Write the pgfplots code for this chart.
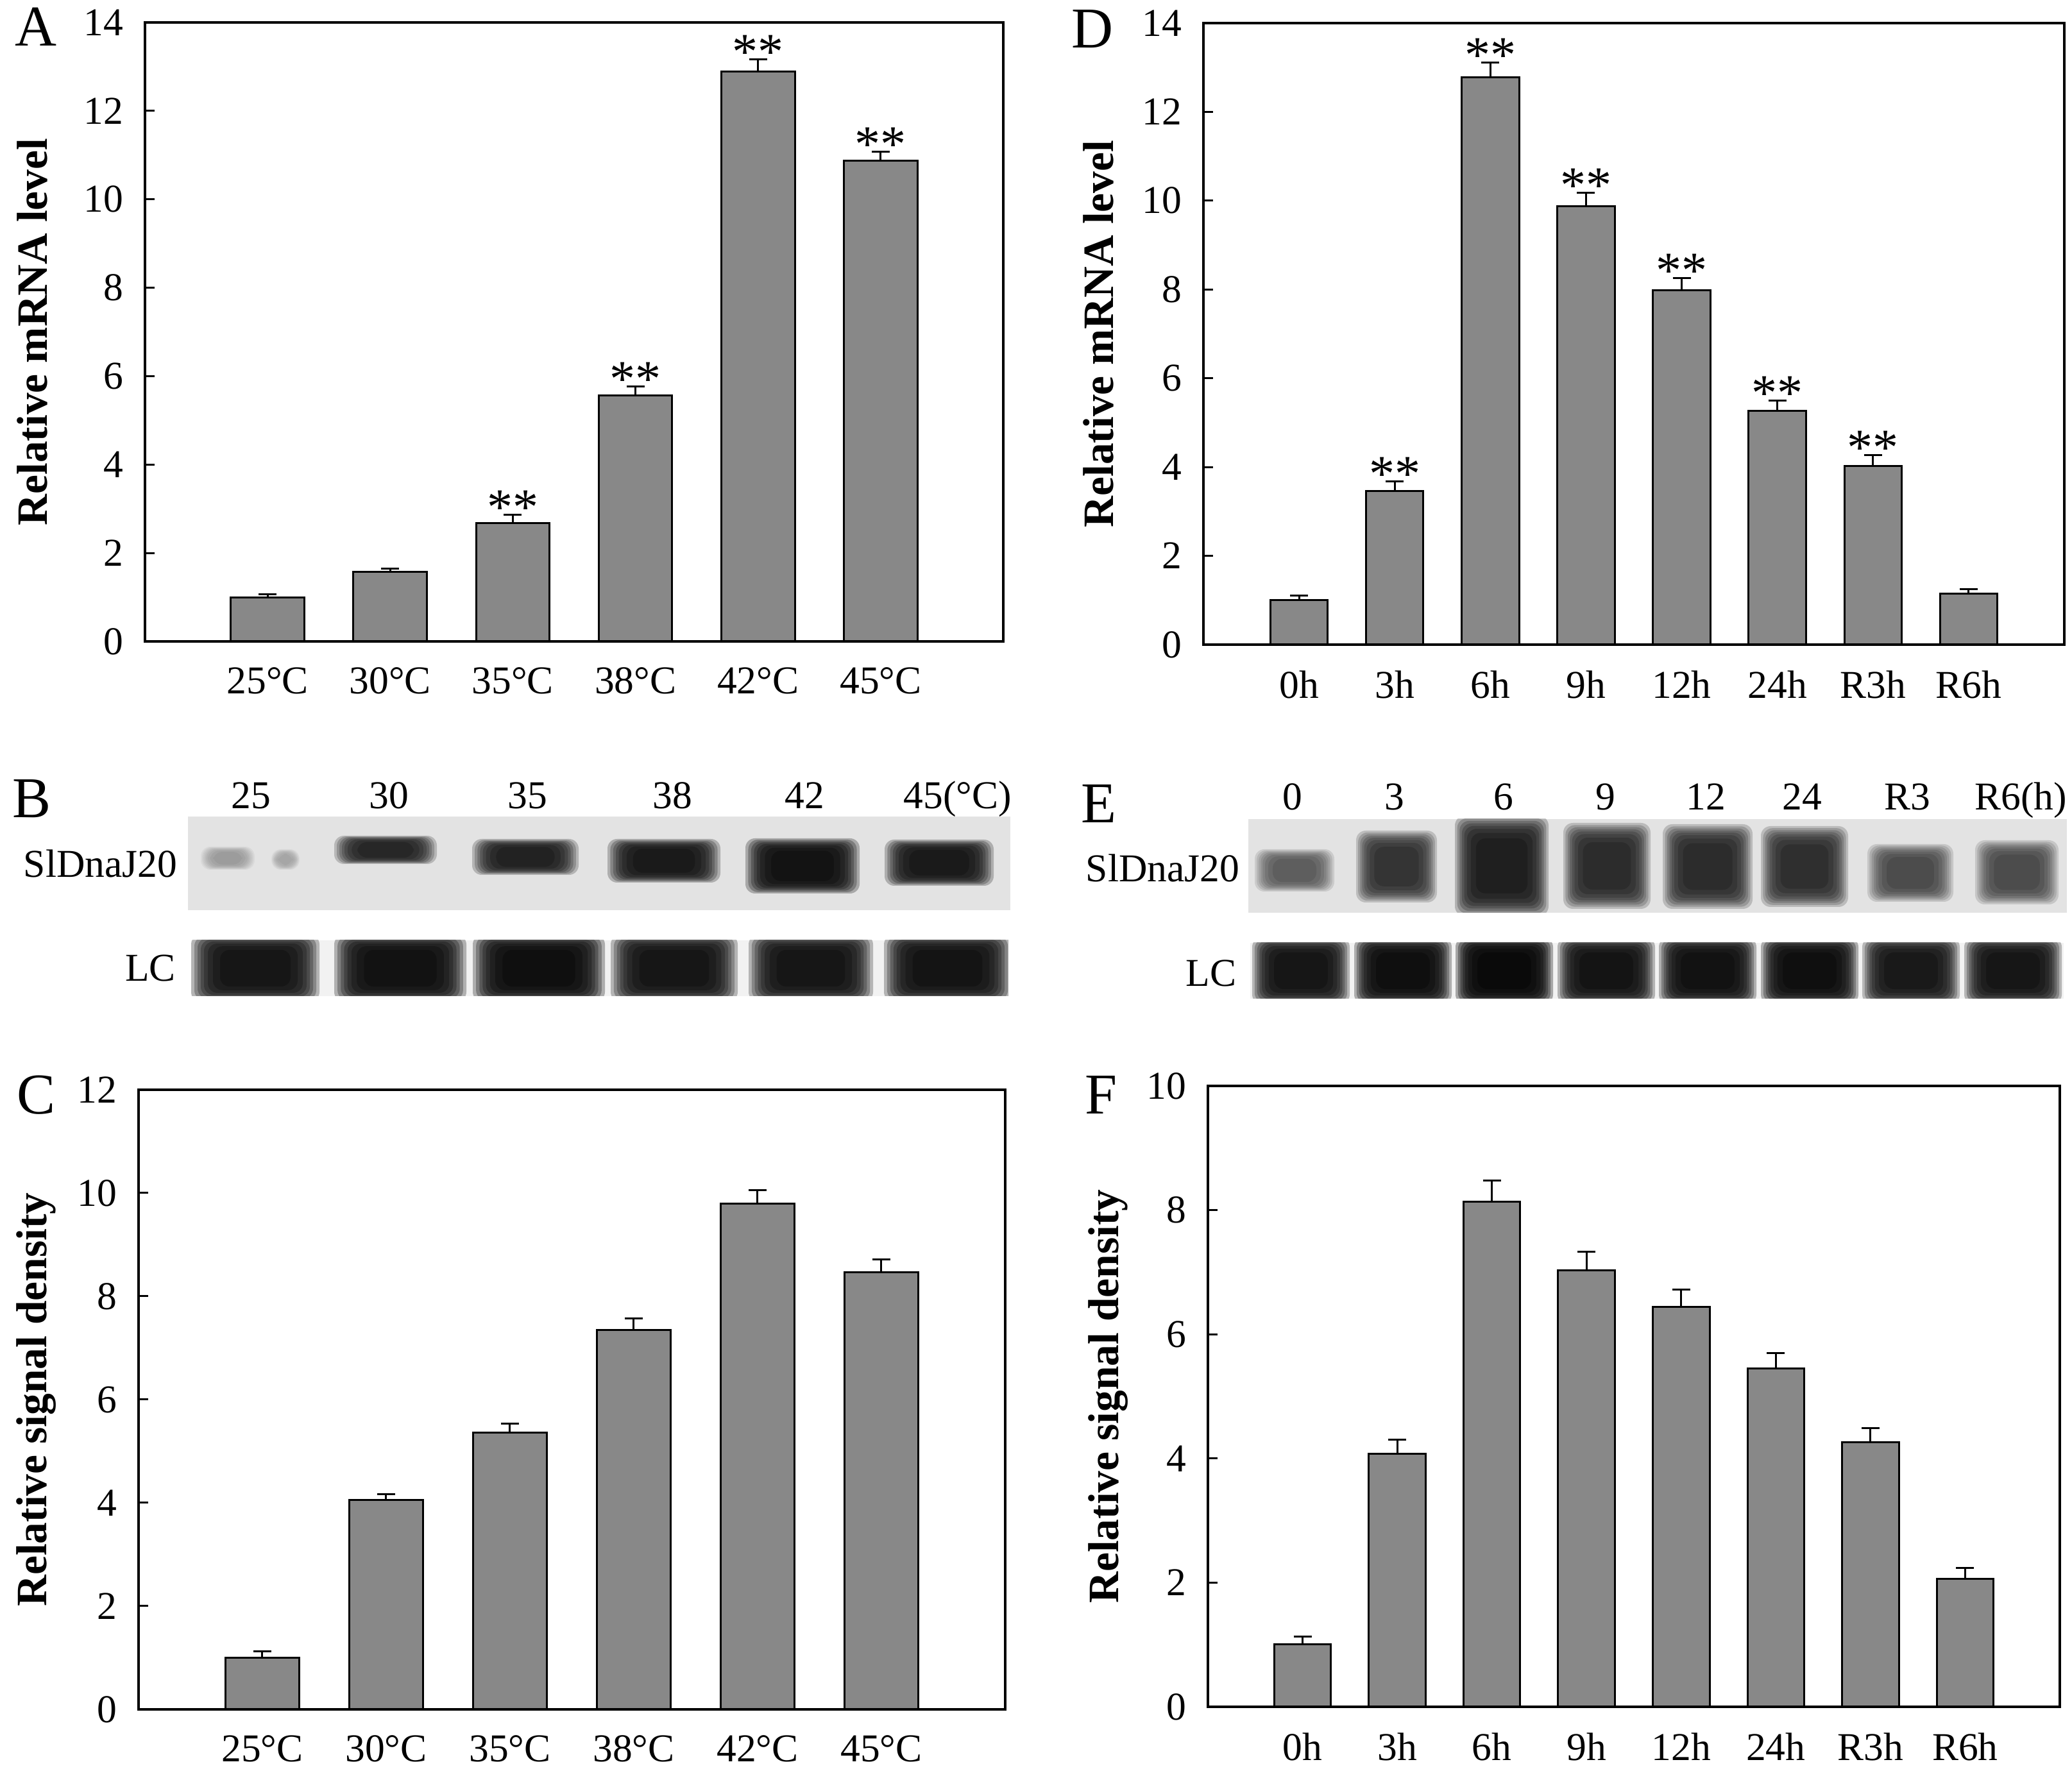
\documentclass[border=0pt]{standalone}
\usepackage{fontspec}
\setmainfont{Liberation Serif}
\usepackage{pgfplots}
\usepackage{pgfplotstable}
\pgfplotsset{compat=1.18}
\definecolor{barg}{RGB}{136,136,136}

\pgfplotstableread{
x y e
0 1.00 0.06
1 1.58 0.07
2 2.68 0.18
3 5.57 0.19
4 12.89 0.27
5 10.87 0.21
}\dataA
\pgfplotstableread{
x y
2 2.86
3 5.76
4 13.16
5 11.08
}\starA
\pgfplotstableread{
x y e
0 1.00 0.11
1 3.46 0.22
2 12.78 0.33
3 9.88 0.30
4 7.98 0.28
5 5.27 0.23
6 4.03 0.24
7 1.15 0.10
}\dataD
\pgfplotstableread{
x y
1 3.68
2 13.11
3 10.18
4 8.26
5 5.50
6 4.27
}\starD
\pgfplotstableread{
x y e
0 1.00 0.12
1 4.05 0.12
2 5.36 0.18
3 7.35 0.22
4 9.79 0.26
5 8.47 0.25
}\dataC
\pgfplotstableread{
x y e
0 1.01 0.12
1 4.08 0.22
2 8.14 0.34
3 7.03 0.30
4 6.44 0.28
5 5.45 0.25
6 4.26 0.23
7 2.06 0.18
}\dataF

\newcommand\tfont{\fontsize{12.3}{14}\selectfont}
\newcommand\lfont{\fontsize{18}{20}\selectfont}

\pgfplotsset{
  myax/.style={
    scale only axis, anchor=south west, clip=false,
    ymin=0, xmin=-1,
    tick align=inside, ytick pos=left,
    major tick length=3pt,
    x tick style={draw=none},
    y tick style={line width=0.6pt, black},
    axis line style={line width=0.7pt, black},
    tick label style={font=\tfont},
    /pgf/number format/assume math mode=true,
    yticklabel style={inner sep=0pt, xshift=-6.6pt},
    xticklabel style={inner sep=0pt, yshift=-8pt},
    ylabel style={font=\fontsize{13.5}{15}\selectfont\bfseries, anchor=center},
  },
  mybar/.style={ybar, bar width=0.6, fill=barg, draw=black, line width=0.6pt,
    error bars/.cd, y dir=plus, y explicit,
    error bar style={line width=0.6pt, black},
    error mark options={rotate=90, mark size=2.8pt, line width=0.6pt, black}},
  mystar/.style={draw=none, mark=none, nodes near coords={**},
    every node near coord/.append style={font=\fontsize{16}{16}\selectfont, inner sep=0pt, anchor=south, yshift=-3.2pt}},
  myblot/.style={scale only axis, anchor=south west, hide axis, y dir=reverse},
}

% one translucent layer: xc hw yc hh opacity shrink
\newcommand\blobl[6]{%
  \pgfmathsetmacro\bxa{#1-#2*#6}%
  \pgfmathsetmacro\bxb{#1+#2*#6}%
  \pgfmathsetmacro\bya{#3-#4*#6}%
  \pgfmathsetmacro\byb{#3+#4*#6}%
  \edef\btmp{\noexpand\addplot[draw=none, fill=black, fill opacity=#5, rounded corners=3pt] coordinates {(\bxa,\bya) (\bxb,\bya) (\bxb,\byb) (\bxa,\byb)} -- cycle;}%
  \btmp}
% a band: xc hw yc hh darkness(percent at centre)
\newcommand\blob[5]{%
  \pgfmathsetmacro\bop{1-pow(1-#5/100,0.125)}%
  \blobl{#1}{#2}{#3}{#4}{\bop}{1}%
  \blobl{#1}{#2}{#3}{#4}{\bop}{0.95}%
  \blobl{#1}{#2}{#3}{#4}{\bop}{0.9}%
  \blobl{#1}{#2}{#3}{#4}{\bop}{0.85}%
  \blobl{#1}{#2}{#3}{#4}{\bop}{0.8}%
  \blobl{#1}{#2}{#3}{#4}{\bop}{0.74}%
  \blobl{#1}{#2}{#3}{#4}{\bop}{0.66}%
  \blobl{#1}{#2}{#3}{#4}{\bop}{0.55}}

\begin{document}
\begin{tikzpicture}
\useasboundingbox (0,0) rectangle (646pt,554.4pt);

% ---------- A ----------
\begin{axis}[myax, at={(45.2pt,354.4pt)}, width=267.6pt, height=193pt,
  xmax=6, ymax=14, ytick={0,2,...,14},
  xtick={0,...,5}, xticklabels={25°C,30°C,35°C,38°C,42°C,45°C},
  ylabel={Relative mRNA level},
  ylabel style={at={(axis description cs:-0.131,0.5)}}]
\addplot[mybar] table[x=x,y=y,y error=e]{\dataA};
\addplot[mystar] table[x=x,y=y]{\starA};
\end{axis}

% ---------- D ----------
\begin{axis}[myax, at={(375.2pt,353.4pt)}, width=268.4pt, height=193.8pt,
  xmax=8, ymax=14, ytick={0,2,...,14},
  xtick={0,...,7}, xticklabels={0h,3h,6h,9h,12h,24h,R3h,R6h},
  ylabel={Relative mRNA level},
  ylabel style={at={(axis description cs:-0.122,0.5)}}]
\addplot[mybar] table[x=x,y=y,y error=e]{\dataD};
\addplot[mystar] table[x=x,y=y]{\starD};
\end{axis}

% ---------- C ----------
\begin{axis}[myax, at={(43.2pt,21.4pt)}, width=270.2pt, height=193.2pt,
  xmax=6, ymax=12, ytick={0,2,...,12},
  xtick={0,...,5}, xticklabels={25°C,30°C,35°C,38°C,42°C,45°C},
  ylabel={Relative signal density},
  ylabel style={at={(axis description cs:-0.118,0.5)}}]
\addplot[mybar] table[x=x,y=y,y error=e]{\dataC};
\end{axis}

% ---------- F ----------
\begin{axis}[myax, at={(376.6pt,22.2pt)}, width=265.6pt, height=193.6pt,
  xmax=8, ymax=10, ytick={0,2,...,10},
  xtick={0,...,7}, xticklabels={0h,3h,6h,9h,12h,24h,R3h,R6h},
  ylabel={Relative signal density},
  ylabel style={at={(axis description cs:-0.117,0.5)}}]
\addplot[mybar] table[x=x,y=y,y error=e]{\dataF};
\end{axis}

% ---------- B blot ----------
\begin{axis}[myblot, at={(58.6pt,270.6pt)}, width=256.4pt, height=29.2pt,
  xmin=293, xmax=1575, ymin=1273, ymax=1419]
\addplot[draw=none, fill=black!11] coordinates {(293,1273) (1575,1273) (1575,1419) (293,1419)} -- cycle;
\blob{355}{42}{1338}{18}{30}
\blob{445}{22}{1340}{16}{25}
\blob{601}{80}{1325}{22}{82}
\blob{819}{83}{1336}{28}{84}
\blob{1035}{88}{1342}{34}{88}
\blob{1251}{89}{1350}{43}{91}
\blob{1464}{85}{1345}{36}{88}
\end{axis}
\begin{axis}[myblot, at={(59.6pt,243.8pt)}, width=254.8pt, height=17.4pt,
  xmin=298, xmax=1572, ymin=1466, ymax=1553]
\addplot[draw=none, fill=black!5] coordinates {(298,1466) (1572,1466) (1572,1553) (298,1553)} -- cycle;
\blob{398}{100}{1509.5}{52}{90}
\blob{624}{103}{1509.5}{52}{92}
\blob{840}{103}{1509.5}{52}{93}
\blob{1051}{99}{1509.5}{52}{90}
\blob{1264}{97}{1509.5}{52}{90}
\blob{1477}{99}{1509.5}{52}{91}
\end{axis}

% ---------- E blot ----------
\begin{axis}[myblot, at={(389.2pt,269.8pt)}, width=255.2pt, height=29.2pt,
  xmin=1946, xmax=3222, ymin=1277, ymax=1423]
\addplot[draw=none, fill=black!11] coordinates {(1946,1277) (3222,1277) (3222,1423) (1946,1423)} -- cycle;
\blob{2018}{62}{1357}{33}{58}
\blob{2177}{63}{1351}{56}{76}
\blob{2341}{73}{1350}{78}{85}
\blob{2505}{68}{1350}{67}{80}
\blob{2662}{70}{1351}{66}{80}
\blob{2813}{68}{1351}{63}{78}
\blob{2978}{67}{1361}{45}{66}
\blob{3144}{65}{1360}{50}{66}
\end{axis}
\begin{axis}[myblot, at={(389.8pt,243pt)}, width=253.6pt, height=17.4pt,
  xmin=1949, xmax=3217, ymin=1470, ymax=1557]
\addplot[draw=none, fill=black!5] coordinates {(1949,1470) (3217,1470) (3217,1557) (1949,1557)} -- cycle;
\blob{2028}{76}{1513.5}{52}{90}
\blob{2187}{76}{1513.5}{52}{93}
\blob{2345}{76}{1513.5}{52}{95}
\blob{2504}{76}{1513.5}{52}{91}
\blob{2662}{76}{1513.5}{52}{92}
\blob{2821}{76}{1513.5}{52}{93}
\blob{2979}{76}{1513.5}{52}{89}
\blob{3138}{76}{1513.5}{52}{90}
\end{axis}

% ---------- texts ----------
\begin{scope}[every node/.style={inner sep=0pt}]
\node[anchor=base west, font=\lfont] at (4.4pt,540pt) {A};
\node[anchor=base west, font=\lfont] at (333.8pt,539.4pt) {D};
\node[anchor=base west, font=\lfont] at (3.8pt,299.4pt) {B};
\node[anchor=base west, font=\lfont] at (336.8pt,297.8pt) {E};
\node[anchor=base west, font=\lfont] at (5pt,207pt) {C};
\node[anchor=base west, font=\lfont] at (338pt,207pt) {F};
\foreach \x/\t in {78.2/25,121.2/30,164.4/35,209.6/38,250.8/42,298.6/45(°C)}
  \node[anchor=base, font=\tfont] at (\x pt,302.2pt) {\t};
\foreach \x/\t in {403/0,434.8/3,468.8/6,500.6/9,531.8/12,561.8/24,594.6/R3,630/R6(h)}
  \node[anchor=base, font=\tfont] at (\x pt,301.8pt) {\t};
\node[anchor=base east, font=\tfont] at (55.4pt,280.8pt) {SlDnaJ20};
\node[anchor=base east, font=\tfont] at (55pt,248.4pt) {LC};
\node[anchor=base east, font=\tfont] at (386.6pt,279.4pt) {SlDnaJ20};
\node[anchor=base east, font=\tfont] at (385.6pt,246.8pt) {LC};
\end{scope}
\end{tikzpicture}
\end{document}
